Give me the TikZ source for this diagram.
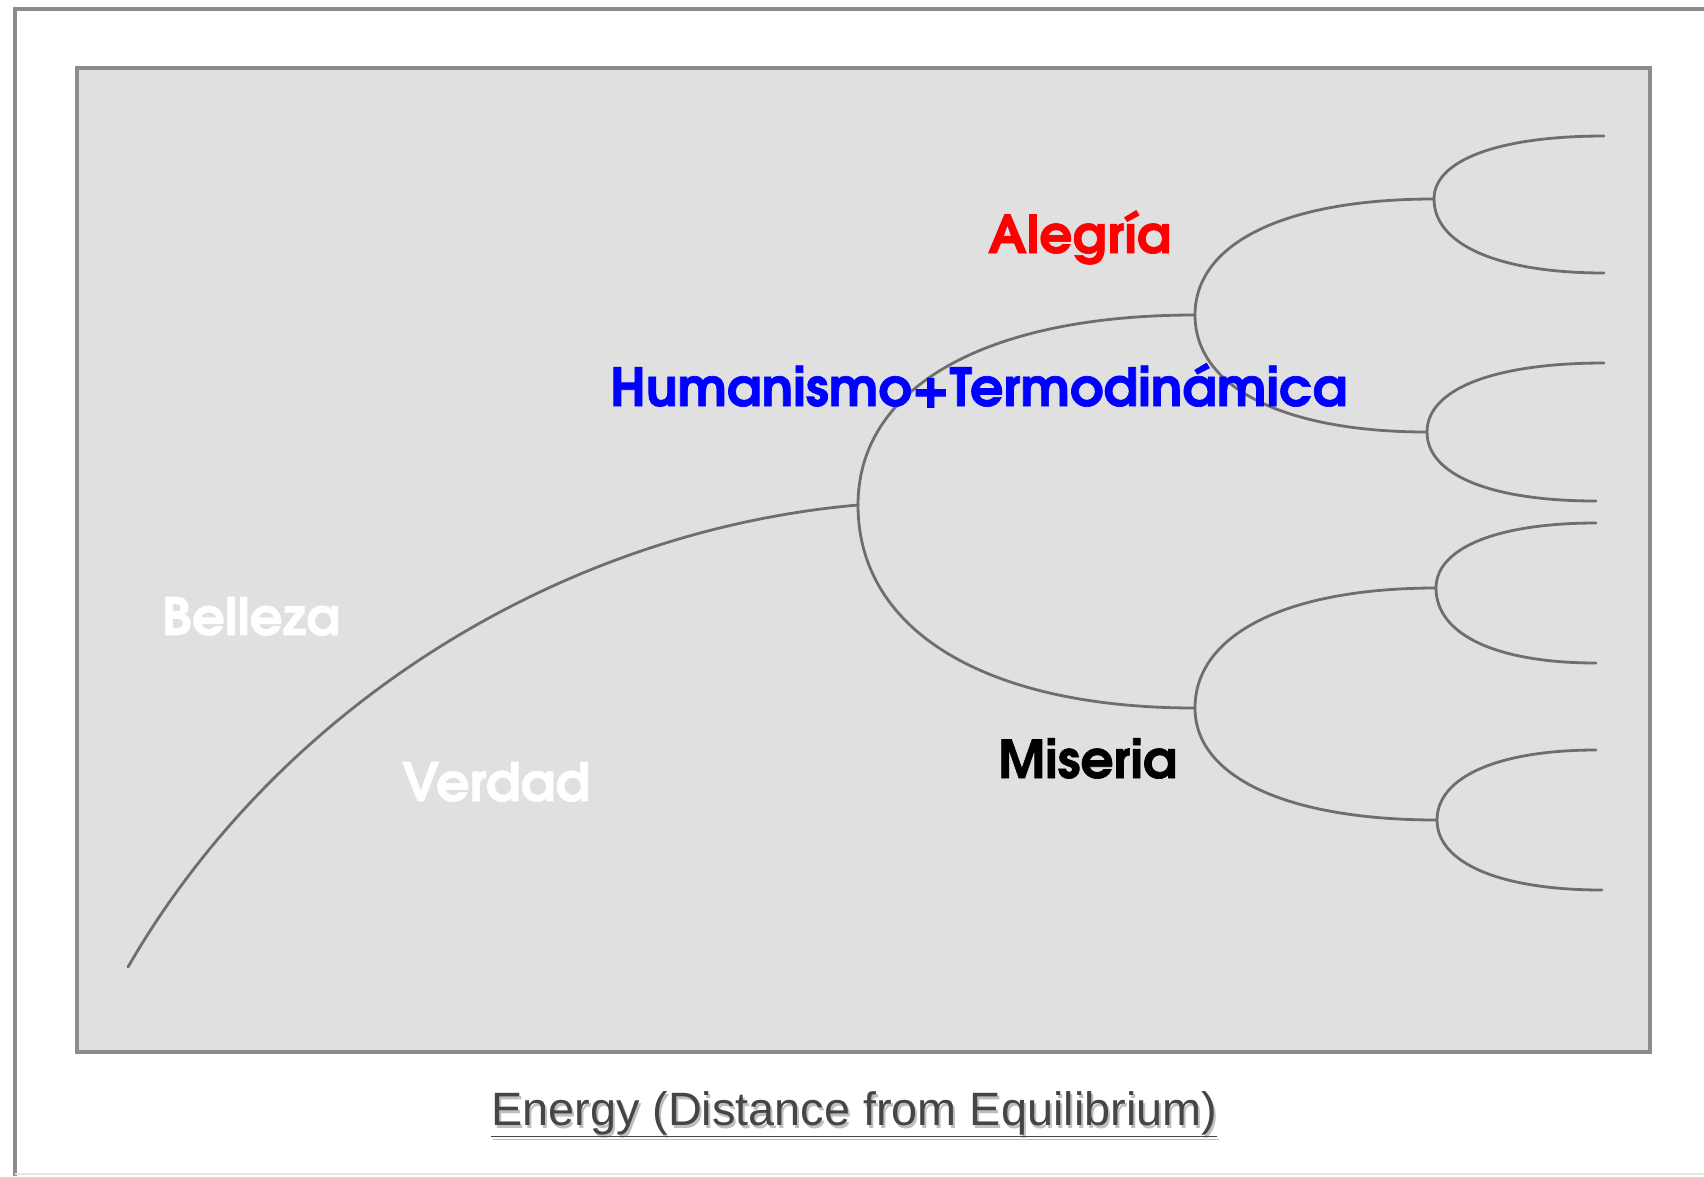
\documentclass[tikz,border=0pt]{standalone}
\usepackage{graphicx}
\usepackage{fontspec}
\setmainfont{Liberation Sans}
\newfontfamily\labfont{texgyreadventor-bold.otf}[FakeBold=1.3]
\newfontfamily\capfont{Liberation Sans}
\definecolor{panelfill}{HTML}{E0E0E0}
\definecolor{framegray}{HTML}{8C8C8C}
\definecolor{linegray}{HTML}{6E6E6E}
\definecolor{capgray}{HTML}{454545}
\tikzset{
  branch/.style={draw=linegray, line width=2.8pt, line cap=round},
  lbl/.style={inner sep=0pt, anchor=base west, font=\labfont\fontsize{54}{60}\selectfont},
}
\begin{document}
\begin{tikzpicture}[x=1pt,y=-1pt]
\useasboundingbox (0,0) rectangle (1704,1176);
\fill[white] (0,0) rectangle (1704,1176);
% outer frame
\draw[framegray, line width=4pt] (15,1176) -- (15,9) -- (1704,9);
\draw[black!10, line width=2pt] (15,1174) -- (1704,1174);
% panel
\draw[fill=panelfill, draw=framegray, line width=4pt] (77,68) rectangle (1650,1052);

% junctions
\coordinate (s)  at (128,967);
\coordinate (j0) at (858,505);
\coordinate (j1) at (1195,315);
\coordinate (j2) at (1195,708);
\coordinate (j3) at (1434,199);
\coordinate (j4) at (1427,432);
\coordinate (j5) at (1436,588);
\coordinate (j6) at (1437,820);
\coordinate (l1) at (1604,136);
\coordinate (l2) at (1604,273);
\coordinate (l3) at (1604,363);
\coordinate (l4) at (1596,501);
\coordinate (l5) at (1596,523);
\coordinate (l6) at (1596,663);
\coordinate (l7) at (1596,750);
\coordinate (l8) at (1602,890);

% trunk
\draw[branch] (s) .. controls (278,707) and (560,531) .. (j0);
% first fork
\draw[branch] (j0) .. controls (858,387) and (986,315) .. (j1);
\draw[branch] (j0) .. controls (858,631) and (986,708) .. (j2);
% second forks
\draw[branch] (j1) .. controls (1195,243) and (1285,199) .. (j3);
\draw[branch] (j1) .. controls (1195,388) and (1285,432) .. (j4);
\draw[branch] (j2) .. controls (1195,634) and (1287,588) .. (j5);
\draw[branch] (j2) .. controls (1195,777) and (1287,820) .. (j6);
% leaves
\draw[branch] (j3) .. controls (1434,160) and (1499,136) .. (l1);
\draw[branch] (j3) .. controls (1434,245) and (1499,273) .. (l2);
\draw[branch] (j4) .. controls (1427,389) and (1494,363) .. (l3);
\draw[branch] (j4) .. controls (1427,475) and (1491,501) .. (l4);
\draw[branch] (j5) .. controls (1436,548) and (1497,523) .. (l5);
\draw[branch] (j5) .. controls (1436,635) and (1497,663) .. (l6);
\draw[branch] (j6) .. controls (1437,777) and (1498,750) .. (l7);
\draw[branch] (j6) .. controls (1437,863) and (1500,890) .. (l8);

% labels
\node[lbl, text=white] (belleza) at (162,635) {\resizebox{178pt}{!}{Belleza}};
\node[lbl, text=white] (verdad) at (402,801) {\resizebox{188pt}{!}{Verdad}};
\node[lbl, text=red] (alegria) at (988,253) {\resizebox{183pt}{!}{Alegría}};
\node[lbl, text=black] (miseria) at (998,778) {\resizebox{179pt}{!}{Miseria}};
\node[lbl, text=blue] (humanismo) at (610,406) {\resizebox{737pt}{!}{Humanismo+Termodinámica}};

% caption
\node[inner sep=0pt, anchor=base west, text=black!25, font=\capfont\fontsize{42}{48}\selectfont] (capshadow) at (493,1128) {\resizebox{726pt}{!}{\underline{Energy (Distance from Equilibrium)}}};
\node[inner sep=0pt, anchor=base west, text=capgray, font=\capfont\fontsize{42}{48}\selectfont] (caption) at (491,1125) {\resizebox{726pt}{!}{\underline{Energy (Distance from Equilibrium)}}};
\end{tikzpicture}
\end{document}
